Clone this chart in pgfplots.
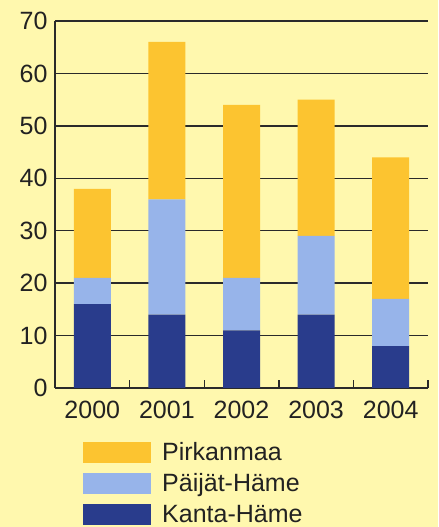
\documentclass[border=0pt]{standalone}
\usepackage{fontspec}
\setmainfont{Liberation Sans}
\usepackage{pgfplots}
\pgfplotsset{compat=1.18}
\usetikzlibrary{backgrounds}
\definecolor{bg}{HTML}{FFF8AE}
\definecolor{pirk}{HTML}{FCC430}
\definecolor{paij}{HTML}{97B4EA}
\definecolor{kanta}{HTML}{293C8C}
\definecolor{gridc}{HTML}{2A2A2A}
\definecolor{txt}{HTML}{222222}
\begin{document}
\begin{tikzpicture}
\begin{axis}[
  name=ax,
  scale only axis,
  width=373pt, height=367pt,
  xmin=-0.5, xmax=4.5,
  ymin=0, ymax=70,
  ybar stacked,
  bar width=37pt,
  axis x line*=bottom,
  axis y line*=left,
  axis line style={gridc, line width=1.4pt, -},
  xtick={0,1,2,3,4},
  xticklabels={2000,2001,2002,2003,2004},
  ytick={0,10,...,70},
  major tick length=0pt,
  minor xtick={0.5,1.5,2.5,3.5,4.5},
  minor tick length=8pt,
  tick align=inside,
  minor tick style={gridc, line width=1.4pt},
  ymajorgrids,
  grid style={gridc, line width=1.4pt},
  tick label style={font=\fontsize{25}{29}\selectfont, text=txt},
  /pgf/number format/assume math mode=true,
  yticklabel style={xshift=-4pt},
  xticklabel style={yshift=-10pt},
  reverse legend,
  legend cell align=left,
  legend style={at={(axis description cs:0.067,-0.135)}, anchor=north west,
    draw=none, fill=none, font=\fontsize{25}{29}\selectfont, text=txt,
    row sep=5.5pt, nodes={inner sep=3pt},
    /tikz/every odd column/.append style={column sep=8pt}},
  legend image code/.code={\fill[#1] (0pt,-10.5pt) rectangle (68pt,10.5pt);},
]
\addplot[fill=kanta, draw=none] coordinates {(0,16) (1,14) (2,11) (3,14) (4,8)};
\addplot[fill=paij, draw=none] coordinates {(0,5) (1,22) (2,10) (3,15) (4,9)};
\addplot[fill=pirk, draw=none] coordinates {(0,17) (1,30) (2,33) (3,26) (4,27)};
\legend{Kanta-Häme,Päijät-Häme,Pirkanmaa}
\end{axis}
\pgfresetboundingbox
\path[use as bounding box] ([shift={(-55pt,-139pt)}]ax.south west) rectangle ([shift={(10pt,21pt)}]ax.north east);
\begin{scope}[on background layer]
\fill[bg] ([shift={(-55pt,-139pt)}]ax.south west) rectangle ([shift={(10pt,21pt)}]ax.north east);
\end{scope}
\end{tikzpicture}
\end{document}
